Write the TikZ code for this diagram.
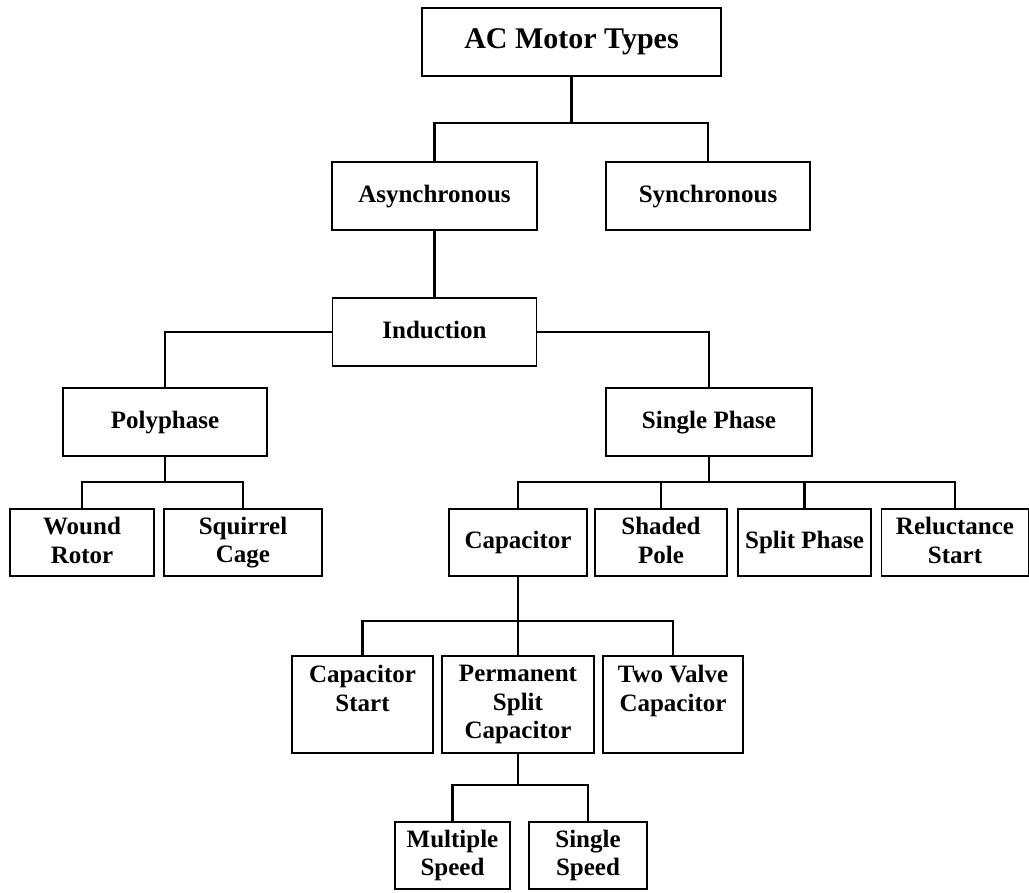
\documentclass[tikz,border=0pt]{standalone}
\usepackage{fontspec}
\setmainfont{Liberation Serif}
% fixed-size strut so every label sits at the same height in its box
\newcommand\labelstrut{\vrule width 0pt height 18pt depth 4pt\relax}
\begin{document}
\begin{tikzpicture}[x=1pt,y=-1pt,
  box/.style={draw, line width=1.6pt, align=center, inner sep=0pt,
    font=\fontsize{25}{28.5}\selectfont\bfseries,
    execute at begin node=\labelstrut, execute at end node=\labelstrut},
  link/.style={line width=2.4pt}]
\useasboundingbox (0,0) rectangle (1029,893);

% level 0 and 1
\node[box, minimum width=299, minimum height=68,
      font=\fontsize{30}{34}\selectfont\bfseries] (top) at (571.5,42) {AC Motor Types};
\node[box, minimum width=205, minimum height=68] (async) at (434.5,196) {Asynchronous};
\node[box, minimum width=204, minimum height=68] (sync) at (708,196) {Synchronous};

% induction branch
\node[box, minimum width=204, minimum height=68] (induc) at (434.5,332) {Induction};
\node[box, minimum width=204, minimum height=68] (poly) at (165,422) {Polyphase};
\node[box, minimum width=206, minimum height=68] (single) at (709,422) {Single Phase};

% polyphase children
\node[box, minimum width=144, minimum height=67] (wound) at (82,542.5) {Wound\\Rotor};
\node[box, minimum width=158, minimum height=67] (squirrel) at (243,542.5) {Squirrel\\Cage};

% single phase children
\node[box, minimum width=138, minimum height=67] (cap) at (518,542.5) {Capacitor};
\node[box, minimum width=132, minimum height=67] (shaded) at (661,542.5) {Shaded\\Pole};
\node[box, minimum width=133, minimum height=67] (split) at (804.5,542.5) {Split Phase};
\node[box, minimum width=147, minimum height=67] (reluct) at (955,542.5) {Reluctance\\Start};

% capacitor children
\node[box, minimum width=141, minimum height=97] (cstart) at (362.5,704.5) {Capacitor\\Start\\};
\node[box, minimum width=152, minimum height=97] (psc) at (518,704.5) {Permanent\\Split\\Capacitor};
\node[box, minimum width=140, minimum height=97] (twov) at (673,704.5) {Two Valve\\Capacitor\\};

% permanent split capacitor children
\node[box, minimum width=115, minimum height=67] (multi) at (452.5,855.5) {Multiple\\Speed};
\node[box, minimum width=118, minimum height=67] (sspeed) at (588,855.5) {Single\\Speed};

% connectors
\draw[link] (top.south) -- (top.south |- 0,123);
\draw[link] (async.north) -- (async.north |- 0,123) -| (sync.north);
\draw[link] (async.south) -- (induc.north);
\draw[link] (induc.west) -| (poly.north);
\draw[link] (induc.east) -| (single.north);

\draw[link] (poly.south) -- (poly.south |- 0,482);
\draw[link] (wound.north) -- (wound.north |- 0,482) -| (squirrel.north);

\draw[link] (single.south) -- (single.south |- 0,482);
\draw[link] (cap.north) -- (cap.north |- 0,482) -| (reluct.north);
\draw[link] (shaded.north) -- (shaded.north |- 0,482);
\draw[link] (split.north) -- (split.north |- 0,482);

\draw[link] (cap.south) -- (psc.north);
\draw[link] (cstart.north) -- (cstart.north |- 0,621) -| (twov.north);

\draw[link] (psc.south) -- (psc.south |- 0,785);
\draw[link] (multi.north) -- (multi.north |- 0,785) -| (sspeed.north);
\end{tikzpicture}
\end{document}
